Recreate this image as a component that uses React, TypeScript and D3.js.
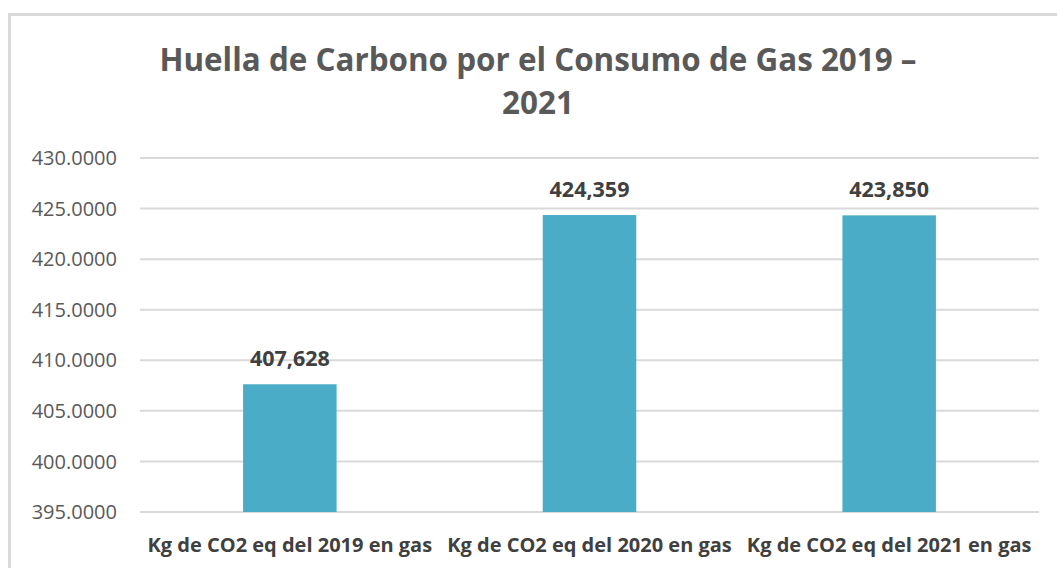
import React, { useEffect, useRef } from 'react';
import * as d3 from 'd3';

const categories = [
  'Kg de CO2 eq del 2019 en gas',
  'Kg de CO2 eq del 2020 en gas',
  'Kg de CO2 eq del 2021 en gas',
];
const values = [407.628, 424.359, 424.33];
const valueLabels = ['407,628', '424,359', '423,850'];
const yTicks = [395, 400, 405, 410, 415, 420, 425, 430];
const titleLines = ['Huella de Carbono por el Consumo de Gas 2019 –', '2021'];

const App: React.FC = () => {
  const svgRef = useRef<SVGSVGElement>(null);
  const width = 1057;
  const height = 568;

  useEffect(() => {
    const svg = d3.select(svgRef.current);
    svg.selectAll('*').remove();

    const font = "'Open Sans', sans-serif";
    const margin = { top: 158, right: 18, bottom: 56, left: 140 };
    const innerWidth = width - margin.left - margin.right;
    const innerHeight = height - margin.top - margin.bottom;

    // Chart area border
    svg.append('rect')
      .attr('x', 9.5)
      .attr('y', 14.5)
      .attr('width', width + 20)
      .attr('height', height + 20)
      .attr('fill', '#ffffff')
      .attr('stroke', '#d9d9d9')
      .attr('stroke-width', 3);

    // Title
    svg.selectAll('.title-line')
      .data(titleLines)
      .enter()
      .append('text')
      .attr('class', 'title-line')
      .attr('x', 538)
      .attr('y', (_, i) => 71 + i * 43)
      .attr('text-anchor', 'middle')
      .attr('font-family', font)
      .attr('font-size', '31.4px')
      .attr('font-weight', 'bold')
      .attr('fill', '#595959')
      .text(d => d);

    const yScale = d3.scaleLinear()
      .domain([395, 430])
      .range([innerHeight, 0]);

    const xScale = d3.scaleBand<string>()
      .domain(categories)
      .range([0, innerWidth])
      .paddingInner(0.688)
      .paddingOuter(0.344);

    const g = svg.append('g')
      .attr('transform', `translate(${margin.left},${margin.top})`);

    // Grid lines
    g.selectAll('.grid-line')
      .data(yTicks)
      .enter()
      .append('line')
      .attr('class', 'grid-line')
      .attr('x1', 0)
      .attr('x2', innerWidth)
      .attr('y1', d => yScale(d))
      .attr('y2', d => yScale(d))
      .attr('stroke', '#d9d9d9')
      .attr('stroke-width', 2);

    // Y tick labels
    g.selectAll('.y-label')
      .data(yTicks)
      .enter()
      .append('text')
      .attr('class', 'y-label')
      .attr('x', -23)
      .attr('y', d => yScale(d))
      .attr('dy', '0.36em')
      .attr('text-anchor', 'end')
      .attr('font-family', font)
      .attr('font-size', '20px')
      .attr('fill', '#595959')
      .text(d => d.toFixed(4));

    // Bars
    g.selectAll('.bar')
      .data(values)
      .enter()
      .append('rect')
      .attr('class', 'bar')
      .attr('x', (_, i) => xScale(categories[i]) || 0)
      .attr('y', d => yScale(d))
      .attr('width', xScale.bandwidth())
      .attr('height', d => innerHeight - yScale(d))
      .attr('fill', '#4aacc6');

    // Value labels
    g.selectAll('.value-label')
      .data(values)
      .enter()
      .append('text')
      .attr('class', 'value-label')
      .attr('x', (_, i) => (xScale(categories[i]) || 0) + xScale.bandwidth() / 2)
      .attr('y', d => yScale(d) - 18)
      .attr('text-anchor', 'middle')
      .attr('font-family', font)
      .attr('font-size', '21.5px')
      .attr('font-weight', 'bold')
      .attr('fill', '#404040')
      .text((_, i) => valueLabels[i]);

    // X labels
    g.selectAll('.x-label')
      .data(categories)
      .enter()
      .append('text')
      .attr('class', 'x-label')
      .attr('x', d => (xScale(d) || 0) + xScale.bandwidth() / 2)
      .attr('y', innerHeight + 40)
      .attr('text-anchor', 'middle')
      .attr('font-family', font)
      .attr('font-size', '20px')
      .attr('font-weight', 'bold')
      .attr('fill', '#404040')
      .text(d => d);
  }, []);

  return (
    <div style={{ position: 'absolute', left: 0, top: 0 }}>
      <svg ref={svgRef} width={width} height={height} style={{ display: 'block' }}></svg>
    </div>
  );
};

export default App;
